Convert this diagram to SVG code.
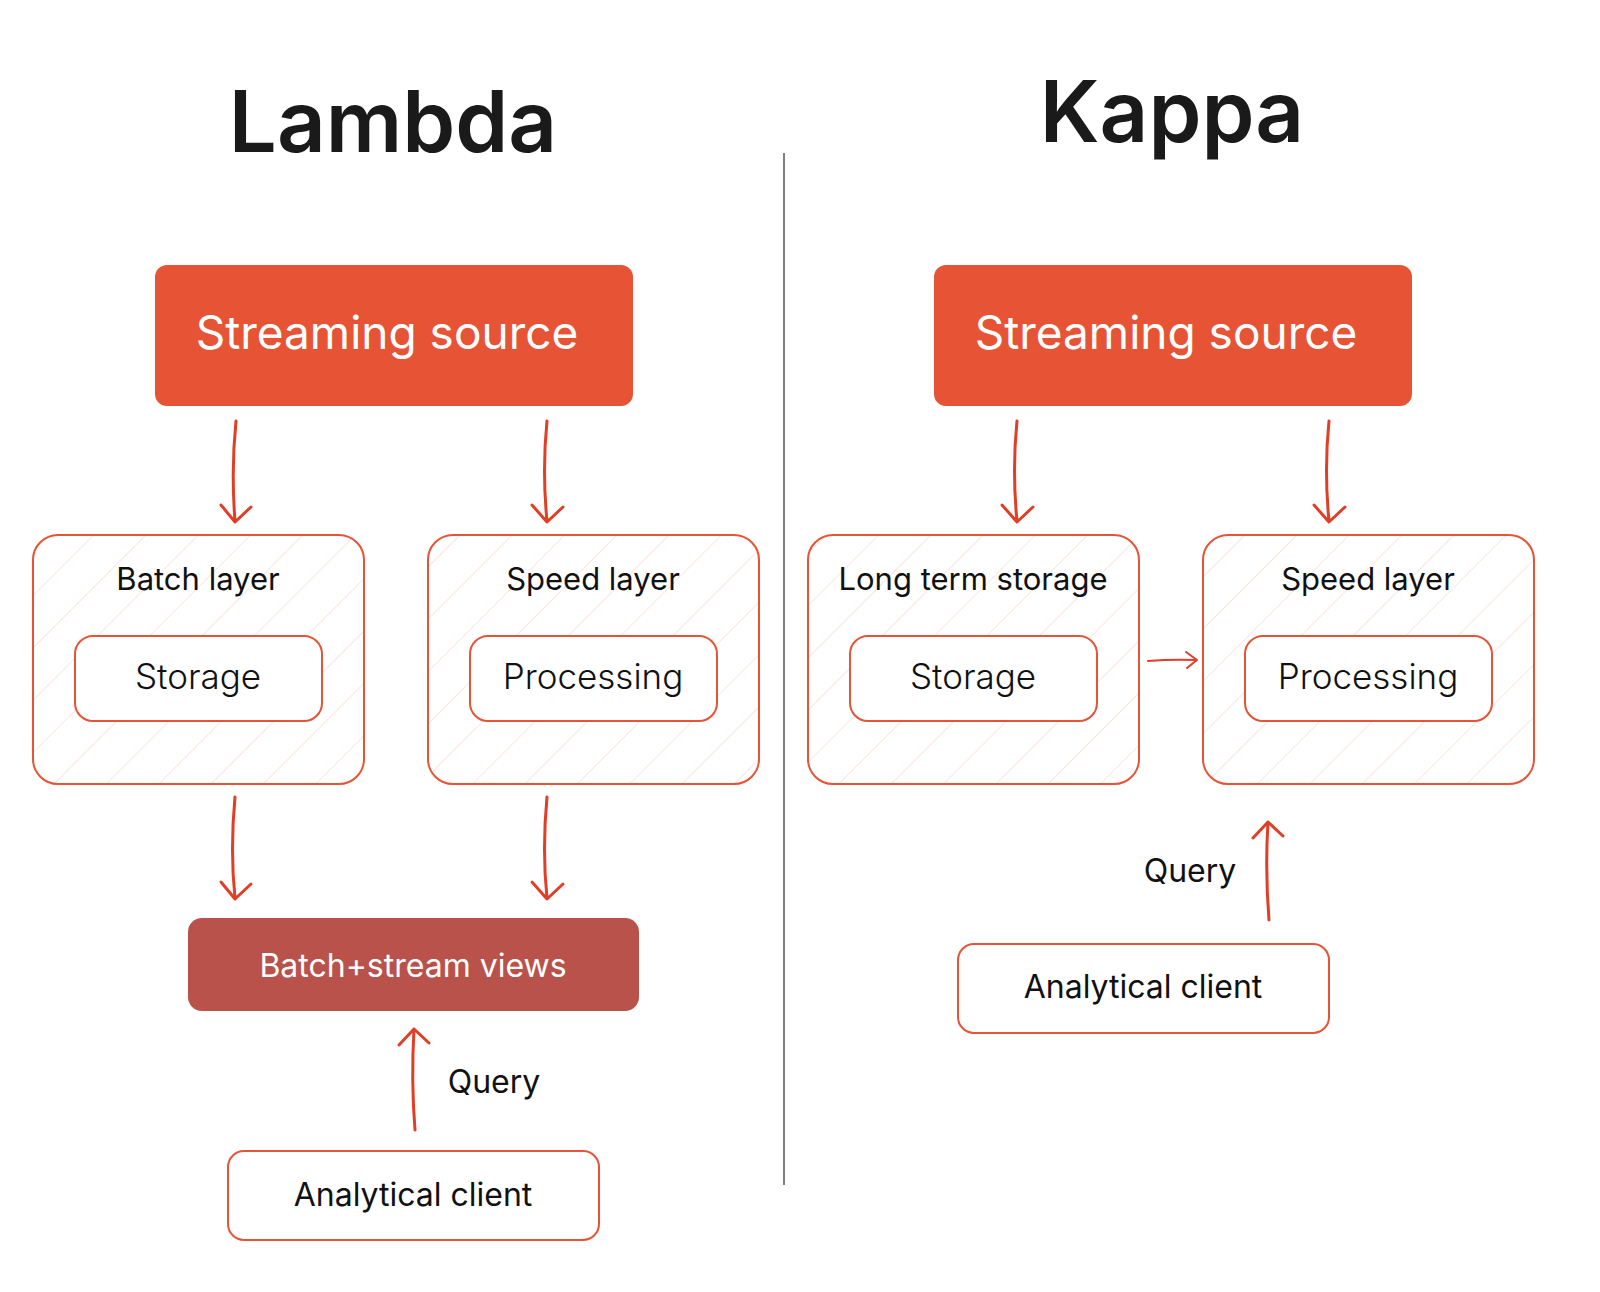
<svg xmlns="http://www.w3.org/2000/svg" width="1600" height="1292" viewBox="0 0 1600 1292">
<defs>
<pattern id="hatch" patternUnits="userSpaceOnUse" width="37" height="37" patternTransform="rotate(45)">
<line x1="0" y1="0" x2="0" y2="37" stroke="#F9D3CB" stroke-width="1.2"/>
</pattern>
<style>
text{font-family:Inter,"Noto Sans","Liberation Sans",sans-serif;text-anchor:middle;fill:#111}
.title{font-size:85px;font-weight:600;fill:#1a1a1a}
.src rect{fill:#E65335}
.src text{fill:#fff;font-size:46px}
.layer rect.outer{fill:url(#hatch);stroke:#E65335;stroke-width:2}
.layer rect.inner{fill:#fff;stroke:#E65335;stroke-width:2}
.lt{font-size:31px}
.it{font-size:35px;font-weight:300}
.cl rect{fill:#fff;stroke:#E65335;stroke-width:2}
.cl text{font-size:32px}
.conn path{fill:none;stroke:#E03E25;stroke-width:3;stroke-linecap:round;stroke-linejoin:round}
</style>
</defs>
<rect width="1600" height="1292" fill="#fff"/>
<text class="title" x="393" y="152">Lambda</text>
<text class="title" x="1172" y="142">Kappa</text>
<line x1="784" y1="153" x2="784" y2="1185" stroke="#555" stroke-width="1.5"/>

<g id="lsrc" class="src"><rect x="155" y="265" width="478" height="141" rx="12"/><text x="387" y="349">Streaming source</text></g>
<g id="ksrc" class="src"><rect x="934" y="265" width="478" height="141" rx="12"/><text x="1166" y="349">Streaming source</text></g>

<g id="batch" class="layer"><rect class="outer" x="33" y="535" width="331" height="249" rx="25"/><text class="lt" x="198" y="590">Batch layer</text>
<rect class="inner" x="75" y="636" width="247" height="85" rx="18"/><text class="it" x="198" y="689">Storage</text></g>
<g id="lspeed" class="layer"><rect class="outer" x="428" y="535" width="331" height="249" rx="25"/><text class="lt" x="593" y="590">Speed layer</text>
<rect class="inner" x="470" y="636" width="247" height="85" rx="18"/><text class="it" x="593" y="689">Processing</text></g>
<g id="ltstore" class="layer"><rect class="outer" x="808" y="535" width="331" height="249" rx="25"/><text class="lt" x="973" y="590">Long term storage</text>
<rect class="inner" x="850" y="636" width="247" height="85" rx="18"/><text class="it" x="973" y="689">Storage</text></g>
<g id="kspeed" class="layer"><rect class="outer" x="1203" y="535" width="331" height="249" rx="25"/><text class="lt" x="1368" y="590">Speed layer</text>
<rect class="inner" x="1245" y="636" width="247" height="85" rx="18"/><text class="it" x="1368" y="689">Processing</text></g>

<g id="views"><rect x="188" y="918" width="451" height="93" rx="14" fill="#B9524A"/><text x="413" y="977" style="fill:#fff;font-size:32px">Batch+stream views</text></g>
<g id="lclient" class="cl"><rect x="228" y="1151" width="371" height="89" rx="16"/><text x="413" y="1206">Analytical client</text></g>
<g id="kclient" class="cl"><rect x="958" y="944" width="371" height="89" rx="16"/><text x="1143" y="998">Analytical client</text></g>
<text x="494" y="1093" style="font-size:32px">Query</text>
<text x="1190" y="882" style="font-size:32px">Query</text>

<g id="connectors" class="conn">
<path d="M236 421 Q231 470 235 521 M221 505 L235 522 L251 507"/>
<path d="M547 421 Q542 470 547 521 M532 505 L547 522 L563 507"/>
<path d="M1017 421 Q1012 470 1017 521 M1002 505 L1017 522 L1033 507"/>
<path d="M1329 421 Q1324 470 1329 521 M1314 505 L1329 522 L1345 507"/>
<path d="M235 797 Q230 850 235 898 M221 882 L235 899 L251 884"/>
<path d="M547 797 Q542 850 547 898 M532 882 L547 899 L563 884"/>
<path d="M415 1130 Q411 1080 414 1029 M399 1045 L414 1029 L429 1043"/>
<path d="M1269 920 Q1265 870 1268 822 M1253 838 L1268 822 L1283 836"/>
<path style="stroke-width:2" d="M1148 661 Q1172 659 1196 660 M1186 652 L1197 660 L1187 668"/>
</g>
</svg>
